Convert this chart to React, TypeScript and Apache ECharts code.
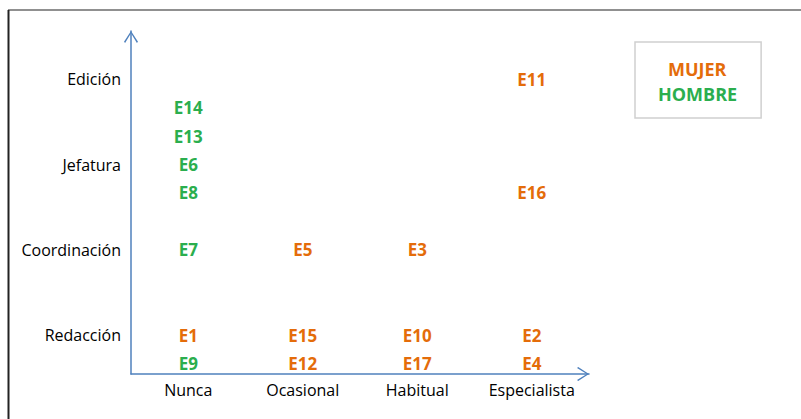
import React, { useEffect, useRef } from 'react';
import * as echarts from 'echarts';

const categories = ['Nunca', 'Ocasional', 'Habitual', 'Especialista'];
const levelNames = ['Redacción', 'Coordinación', 'Jefatura', 'Edición'];
const levelValues = [1, 2, 3, 4];

const mujerNames = ['E11', 'E16', 'E5', 'E3', 'E1', 'E15', 'E10', 'E2', 'E12', 'E17', 'E4'];
const mujerX = ['Especialista', 'Especialista', 'Ocasional', 'Habitual', 'Nunca', 'Ocasional', 'Habitual', 'Especialista', 'Ocasional', 'Habitual', 'Especialista'];
const mujerY = [4, 2.67, 2, 2, 1, 1, 1, 1, 0.67, 0.67, 0.67];

const hombreNames = ['E14', 'E13', 'E6', 'E8', 'E7', 'E9'];
const hombreX = ['Nunca', 'Nunca', 'Nunca', 'Nunca', 'Nunca', 'Nunca'];
const hombreY = [3.67, 3.33, 3, 2.67, 2, 0.67];

const ORANGE = '#E46C0A';
const GREEN = '#2BAE4E';
const AXIS_BLUE = '#4F81BD';
const FONT = '"Open Sans", "Noto Sans", sans-serif';
const ARROW = 'path://M7,0 L14,10.8 L12.9,12 L7,2.2 L1.1,12 L0,10.8 Z';

export default function App() {
  const ref = useRef<HTMLDivElement>(null);

  useEffect(() => {
    document.body.style.margin = '0';
    if (!ref.current) return;
    const chart = echarts.init(ref.current, null, { renderer: 'svg' });

    const makeData = (names: string[], xs: string[], ys: number[]) =>
      names.map((n, i) => ({ name: n, value: [xs[i], ys[i]] }));

    const labelStyle = (color: string) => ({
      show: true,
      position: 'inside' as const,
      formatter: '{b}',
      color,
      opacity: 1,
      fontWeight: 'bold' as const,
      fontSize: 17,
      fontFamily: FONT,
    });

    chart.setOption({
      animation: false,
      backgroundColor: '#ffffff',
      grid: {
        left: 131,
        right: 212,
        top: 31,
        bottom: 45,
        outerBoundsMode: 'none',
      },
      legend: {
        left: 635,
        top: 42,
        orient: 'vertical',
        icon: 'rect',
        itemWidth: 0,
        itemHeight: 0,
        itemGap: 5,
        itemStyle: { color: 'transparent' },
        padding: [17, 24, 14, 18],
        borderColor: '#d0d0d0',
        borderWidth: 1.5,
        selectedMode: false,
        textStyle: { fontFamily: FONT, fontWeight: 'bold', fontSize: 18, lineHeight: 20 },
        data: [
          { name: 'MUJER', textStyle: { color: ORANGE, padding: [0, 0, 0, 10] } },
          { name: 'HOMBRE', textStyle: { color: GREEN } },
        ],
      },
      xAxis: {
        type: 'category',
        data: categories,
        boundaryGap: true,
        axisLine: {
          show: true,
          lineStyle: { color: AXIS_BLUE, width: 1.5 },
          symbol: ['none', ARROW],
          symbolSize: [14, 12],
          symbolOffset: [0, -6],
        },
        axisTick: { show: false },
        splitLine: { show: false },
        axisLabel: { color: '#000', fontSize: 16, fontFamily: FONT, margin: 8 },
      },
      yAxis: {
        type: 'value',
        min: 0.543,
        max: 4.566,
        axisLine: {
          show: true,
          lineStyle: { color: AXIS_BLUE, width: 1.5 },
          symbol: ['none', ARROW],
          symbolSize: [14, 12],
          symbolOffset: [0, -6],
        },
        axisTick: { show: false },
        splitLine: { show: false },
        axisLabel: {
          customValues: levelValues,
          color: '#000',
          fontSize: 16,
          fontFamily: FONT,
          margin: 10,
          formatter: (v: number) => {
            const idx = levelValues.indexOf(Math.round(v));
            return idx >= 0 ? levelNames[idx] : '';
          },
        },
      },
      series: [
        {
          name: 'MUJER',
          type: 'scatter',
          symbol: 'circle',
          symbolSize: 1,
          itemStyle: { color: 'transparent', opacity: 1 },
          label: labelStyle(ORANGE),
          emphasis: { disabled: true },
          data: makeData(mujerNames, mujerX, mujerY),
        },
        {
          name: 'HOMBRE',
          type: 'scatter',
          symbol: 'circle',
          symbolSize: 1,
          itemStyle: { color: 'transparent', opacity: 1 },
          label: labelStyle(GREEN),
          emphasis: { disabled: true },
          data: makeData(hombreNames, hombreX, hombreY),
        },
      ],
      graphic: [
        {
          type: 'line',
          shape: { x1: 8, y1: 10, x2: 801, y2: 10 },
          style: { stroke: '#6b6b6b', lineWidth: 1.5 },
        },
        {
          type: 'line',
          shape: { x1: 8.5, y1: 10, x2: 8.5, y2: 419 },
          style: { stroke: '#222222', lineWidth: 2 },
        },
      ],
    });

    return () => chart.dispose();
  }, []);

  return <div ref={ref} style={{ width: 801, height: 419 }} />;
}
